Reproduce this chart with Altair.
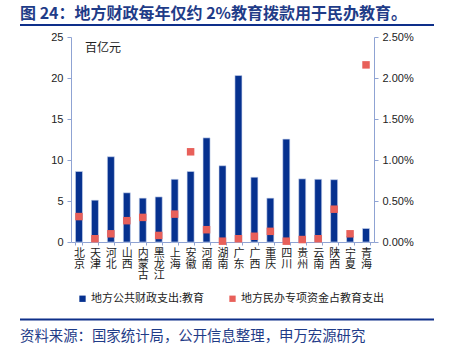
import altair as alt
import pandas as pd

provinces = ["北京", "天津", "河北", "山西", "内蒙古", "黑龙江", "上海", "安徽", "河南", "湖南",
             "广东", "广西", "重庆", "四川", "贵州", "云南", "陕西", "宁夏", "青海"]
edu_spend = [8.6, 5.1, 10.4, 6.0, 5.35, 5.5, 7.65, 8.6, 12.7, 9.3,
             20.3, 7.9, 5.35, 12.55, 7.7, 7.65, 7.6, 0.7, 1.65]
private_share = [0.0031, 0.0004, 0.0010, 0.0026, 0.0030, 0.0008, 0.0034, 0.0110, 0.0015, 0.0001,
                 0.0004, 0.0007, 0.0013, 0.0001, 0.0003, 0.0004, 0.0040, 0.0010, 0.0216]
left_ticks = [0, 5, 10, 15, 20, 25]
right_ticks = [0, 0.005, 0.01, 0.015, 0.02, 0.025]

S1 = "地方公共财政支出:教育"
S2 = "地方民办专项资金占教育支出"
TITLE = "图 24：地方财政每年仅约 2%教育拨款用于民办教育。"
SOURCE = "资料来源：国家统计局，公开信息整理，申万宏源研究"
UNIT = "百亿元"

df = pd.DataFrame({"prov": provinces, "spend": edu_spend, "share": private_share})

CJK = "Noto Sans CJK SC"
NUM = "Liberation Sans"
AX = "#8FA3D3"
TXT = "#222222"
NAVY = "#1F3C88"

color_scale = alt.Scale(domain=[S1, S2], range=["#06318F", "#E8605A"])
legend = alt.Legend(orient="none", legendX=6, legendY=256, direction="horizontal",
                    symbolType="square", symbolSize=40, symbolStrokeWidth=0,
                    labelFont=CJK, labelFontSize=11, labelColor=TXT, columnPadding=22,
                    labelOffset=3, padding=0, title=None)

x = alt.X("prov:N", sort=provinces, title=None,
          scale=alt.Scale(paddingInner=0.56, paddingOuter=0.28),
          axis=alt.Axis(labelAngle=0, labelExpr="split(datum.label, '')", labelLineHeight=11.4,
                        labelFont=CJK, labelFontSize=11, labelColor=TXT, tickBand="extent",
                        tickSize=3, labelPadding=2, domainColor=AX, tickColor=AX))

base = alt.Chart(df).transform_calculate(s1=f"'{S1}'", s2=f"'{S2}'")

bars = base.mark_bar(stroke="#cfd8f0", strokeWidth=0.6).encode(
    x=x,
    y=alt.Y("spend:Q", title=None, scale=alt.Scale(domain=[0, 25], nice=False),
            axis=alt.Axis(values=left_ticks, grid=False, labelFont=NUM, labelFontSize=11,
                          labelColor=TXT, domainColor=AX, tickColor=AX, tickSize=4, labelPadding=4)),
    color=alt.Color("s1:N", scale=color_scale, legend=legend),
)

points = base.mark_point(shape="square", filled=True, size=56, opacity=1).encode(
    x=x,
    y=alt.Y("share:Q", title=None, scale=alt.Scale(domain=[0, 0.025], nice=False),
            axis=alt.Axis(orient="right", format=".2%", values=right_ticks, grid=False,
                          labelFont=NUM, labelFontSize=11, labelColor=TXT, domainColor=AX,
                          tickColor=AX, tickSize=4, labelPadding=4)),
    color=alt.Color("s2:N", scale=color_scale, legend=legend),
)

one = pd.DataFrame({"a": [0]})

unit = alt.Chart(pd.DataFrame({"t": [UNIT]})).mark_text(
    font=CJK, fontSize=12, color=TXT, align="left", baseline="middle").encode(
    text="t:N", x=alt.value(14), y=alt.value(11))

title = alt.Chart(pd.DataFrame({"t": [TITLE]})).mark_text(
    font=CJK, fontSize=16, fontWeight="bold", color=NAVY, align="left", baseline="middle").encode(
    text="t:N", x=alt.value(-51), y=alt.value(-23))

source = alt.Chart(pd.DataFrame({"t": [SOURCE]})).mark_text(
    font=CJK, fontSize=14.4, color=NAVY, align="left", baseline="middle").encode(
    text="t:N", x=alt.value(-51), y=alt.value(300))

rule_top = alt.Chart(one).mark_rule(color="#0E2F8A", strokeWidth=2).encode(
    x=alt.value(-51), x2=alt.value(363), y=alt.value(-12))
rule_bot = alt.Chart(one).mark_rule(color="#0E2F8A", strokeWidth=2).encode(
    x=alt.value(-51), x2=alt.value(363), y=alt.value(282.5))

chart = alt.layer(bars, points, unit, title, source, rule_top, rule_bot).resolve_scale(
    y="independent"
).properties(
    width=303, height=205, autosize="none",
    padding={"left": 71, "top": 37, "right": 85, "bottom": 110},
    background="white",
).configure_view(stroke="transparent")

chart.save("out.html", embed_options={"renderer": "svg", "actions": False})
